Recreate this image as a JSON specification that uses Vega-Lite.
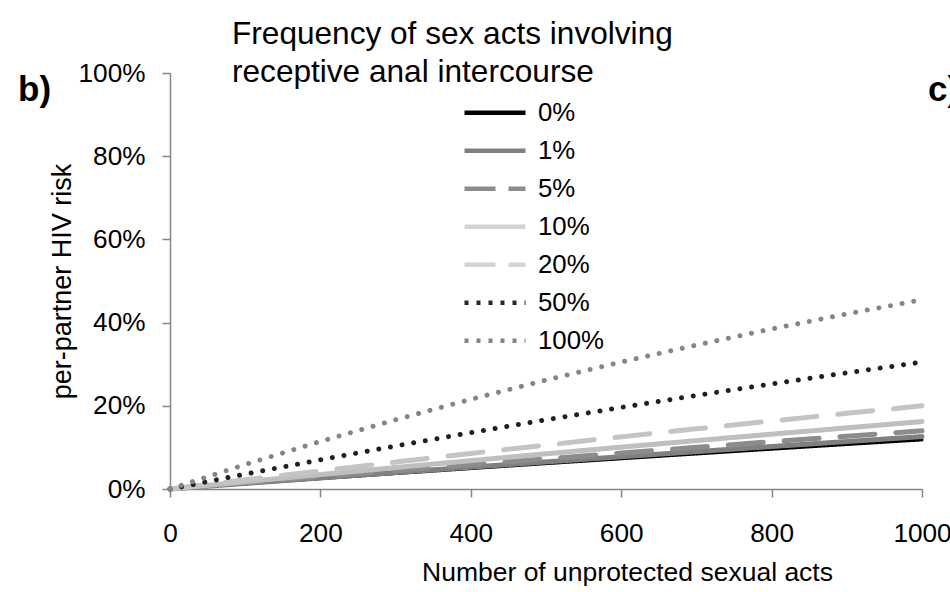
{
  "$schema": "https://vega.github.io/schema/vega-lite/v6.json",
  "width": 752,
  "height": 416,
  "autosize": {"type": "none"},
  "padding": {"left": 170, "top": 73, "right": 28, "bottom": 103},
  "background": "white",
  "config": {
    "view": {"stroke": null},
    "font": "Liberation Sans",
    "axis": {
      "domainColor": "#868686",
      "domainWidth": 1.5,
      "tickColor": "#868686",
      "tickWidth": 1.5,
      "tickSize": 8,
      "grid": false,
      "labelColor": "#000000",
      "labelFont": "Liberation Sans",
      "labelFontSize": 26.2,
      "titleColor": "#000000",
      "titleFont": "Liberation Sans",
      "titleFontWeight": "normal",
      "titleFontSize": 26.5
    }
  },
  "datasets": {
    "risk": [
      {"series": "0%", "acts": 0, "risk": 0},
      {"series": "0%", "acts": 100, "risk": 0.0125},
      {"series": "0%", "acts": 200, "risk": 0.0248},
      {"series": "0%", "acts": 300, "risk": 0.037},
      {"series": "0%", "acts": 400, "risk": 0.049},
      {"series": "0%", "acts": 500, "risk": 0.0609},
      {"series": "0%", "acts": 600, "risk": 0.0726},
      {"series": "0%", "acts": 700, "risk": 0.0842},
      {"series": "0%", "acts": 800, "risk": 0.0956},
      {"series": "0%", "acts": 900, "risk": 0.1069},
      {"series": "0%", "acts": 1000, "risk": 0.118},
      {"series": "1%", "acts": 0, "risk": 0},
      {"series": "1%", "acts": 100, "risk": 0.0134},
      {"series": "1%", "acts": 200, "risk": 0.0266},
      {"series": "1%", "acts": 300, "risk": 0.0396},
      {"series": "1%", "acts": 400, "risk": 0.0525},
      {"series": "1%", "acts": 500, "risk": 0.0651},
      {"series": "1%", "acts": 600, "risk": 0.0776},
      {"series": "1%", "acts": 700, "risk": 0.0899},
      {"series": "1%", "acts": 800, "risk": 0.1021},
      {"series": "1%", "acts": 900, "risk": 0.1141},
      {"series": "1%", "acts": 1000, "risk": 0.126},
      {"series": "5%", "acts": 0, "risk": 0},
      {"series": "5%", "acts": 100, "risk": 0.015},
      {"series": "5%", "acts": 200, "risk": 0.0297},
      {"series": "5%", "acts": 300, "risk": 0.0442},
      {"series": "5%", "acts": 400, "risk": 0.0585},
      {"series": "5%", "acts": 500, "risk": 0.0726},
      {"series": "5%", "acts": 600, "risk": 0.0865},
      {"series": "5%", "acts": 700, "risk": 0.1002},
      {"series": "5%", "acts": 800, "risk": 0.1136},
      {"series": "5%", "acts": 900, "risk": 0.1269},
      {"series": "5%", "acts": 1000, "risk": 0.14},
      {"series": "10%", "acts": 0, "risk": 0},
      {"series": "10%", "acts": 100, "risk": 0.0175},
      {"series": "10%", "acts": 200, "risk": 0.0347},
      {"series": "10%", "acts": 300, "risk": 0.0516},
      {"series": "10%", "acts": 400, "risk": 0.0682},
      {"series": "10%", "acts": 500, "risk": 0.0846},
      {"series": "10%", "acts": 600, "risk": 0.1006},
      {"series": "10%", "acts": 700, "risk": 0.1163},
      {"series": "10%", "acts": 800, "risk": 0.1318},
      {"series": "10%", "acts": 900, "risk": 0.147},
      {"series": "10%", "acts": 1000, "risk": 0.162},
      {"series": "20%", "acts": 0, "risk": 0},
      {"series": "20%", "acts": 100, "risk": 0.0221},
      {"series": "20%", "acts": 200, "risk": 0.0436},
      {"series": "20%", "acts": 300, "risk": 0.0647},
      {"series": "20%", "acts": 400, "risk": 0.0854},
      {"series": "20%", "acts": 500, "risk": 0.1056},
      {"series": "20%", "acts": 600, "risk": 0.1253},
      {"series": "20%", "acts": 700, "risk": 0.1446},
      {"series": "20%", "acts": 800, "risk": 0.1635},
      {"series": "20%", "acts": 900, "risk": 0.1819},
      {"series": "20%", "acts": 1000, "risk": 0.2},
      {"series": "50%", "acts": 0, "risk": 0},
      {"series": "50%", "acts": 100, "risk": 0.0357},
      {"series": "50%", "acts": 200, "risk": 0.0702},
      {"series": "50%", "acts": 300, "risk": 0.1034},
      {"series": "50%", "acts": 400, "risk": 0.1354},
      {"series": "50%", "acts": 500, "risk": 0.1663},
      {"series": "50%", "acts": 600, "risk": 0.1961},
      {"series": "50%", "acts": 700, "risk": 0.2249},
      {"series": "50%", "acts": 800, "risk": 0.2525},
      {"series": "50%", "acts": 900, "risk": 0.2792},
      {"series": "50%", "acts": 1000, "risk": 0.305},
      {"series": "100%", "acts": 0, "risk": 0},
      {"series": "100%", "acts": 100, "risk": 0.0589},
      {"series": "100%", "acts": 200, "risk": 0.1143},
      {"series": "100%", "acts": 300, "risk": 0.1665},
      {"series": "100%", "acts": 400, "risk": 0.2156},
      {"series": "100%", "acts": 500, "risk": 0.2618},
      {"series": "100%", "acts": 600, "risk": 0.3053},
      {"series": "100%", "acts": 700, "risk": 0.3461},
      {"series": "100%", "acts": 800, "risk": 0.3847},
      {"series": "100%", "acts": 900, "risk": 0.4209},
      {"series": "100%", "acts": 1000, "risk": 0.455}
    ]
  },
  "resolve": {"scale": {"color": "independent", "strokeDash": "independent"}, "legend": {"color": "independent", "strokeDash": "independent"}},
  "layer": [
    {
      "data": {"name": "risk"},
      "mark": {"type": "line", "strokeCap": "round", "strokeJoin": "round"},
      "encoding": {
        "x": {
          "field": "acts",
          "type": "quantitative",
          "scale": {"domain": [0, 1000], "nice": false},
          "axis": {
            "values": [0, 200, 400, 600, 800, 1000],
            "format": "d",
            "title": "Number of unprotected sexual acts",
            "labelPadding": 23,
            "labelFlush": false,
            "labelOverlap": false,
            "titleX": 457,
            "titleY": 91,
            "titleAlign": "center",
            "titleBaseline": "alphabetic"
          }
        },
        "y": {
          "field": "risk",
          "type": "quantitative",
          "scale": {"domain": [0, 1], "nice": false},
          "axis": {
            "values": [0, 0.2, 0.4, 0.6, 0.8, 1],
            "format": ".0%",
            "title": "per-partner HIV risk",
            "labelPadding": 17,
            "labelFlush": false,
            "labelOverlap": false,
            "titleX": -100,
            "titleY": 208,
            "titleAngle": 270,
            "titleAlign": "center",
            "titleBaseline": "alphabetic",
            "titleFontSize": 27
          }
        },
        "color": {
          "field": "series",
          "type": "nominal",
          "scale": {
            "domain": ["0%", "1%", "5%", "10%", "20%", "50%", "100%"],
            "range": ["#000000", "#808080", "#8c8c8c", "#bfbfbf", "#c4c4c4", "#1f1f1f", "#858585"]
          },
          "legend": null
        },
        "strokeDash": {
          "field": "series",
          "type": "nominal",
          "scale": {
            "domain": ["0%", "1%", "5%", "10%", "20%", "50%", "100%"],
            "range": [[1, 0], [1, 0], [35, 21], [1, 0], [35, 21], [0.01, 11.8], [0.01, 11.8]]
          },
          "legend": null
        },
        "strokeWidth": {
          "condition": {"test": "datum.series === '0%'", "value": 3},
          "value": 5
        },
        "order": {"field": "acts", "type": "quantitative"}
      }
    },
    {
      "data": {"name": "risk"},
      "transform": [{"filter": "datum.acts < 0"}],
      "mark": {"type": "line", "strokeCap": "butt", "strokeWidth": 4.5},
      "encoding": {
        "x": {"field": "acts", "type": "quantitative"},
        "y": {"field": "risk", "type": "quantitative"},
        "color": {
          "field": "series",
          "type": "nominal",
          "scale": {
            "domain": ["0%", "1%", "5%", "10%", "20%", "50%", "100%"],
            "range": ["#000000", "#808080", "#8c8c8c", "#d4d4d4", "#d4d4d4", "#262626", "#858585"]
          },
          "legend": {
            "orient": "none",
            "legendX": 62,
            "legendY": -54.5,
            "padding": 0,
            "title": ["Frequency of sex acts involving", "receptive anal intercourse"],
            "titleFont": "Liberation Sans",
            "titleFontSize": 31.6,
            "titleFontWeight": "normal",
            "titleColor": "#000000",
            "titleLineHeight": 38,
            "titleAnchor": "start",
            "titleLimit": 700,
            "titlePadding": 5.8,
            "symbolType": "stroke",
            "symbolSize": 3721,
            "symbolOffset": 230,
            "symbolStrokeWidth": 4.5,
            "labelOffset": 10,
            "labelFont": "Liberation Sans",
            "labelFontSize": 25.8,
            "labelColor": "#000000",
            "labelLimit": 300,
            "clipHeight": 37.6,
            "rowPadding": 0
          }
        },
        "strokeDash": {
          "field": "series",
          "type": "nominal",
          "scale": {
            "domain": ["0%", "1%", "5%", "10%", "20%", "50%", "100%"],
            "range": [[1, 0], [1, 0], [31, 13], [1, 0], [31, 13], [4, 8], [4, 8]]
          },
          "legend": {
            "orient": "none",
            "legendX": 62,
            "legendY": -54.5,
            "padding": 0,
            "title": ["Frequency of sex acts involving", "receptive anal intercourse"],
            "titleFont": "Liberation Sans",
            "titleFontSize": 31.6,
            "titleFontWeight": "normal",
            "titleColor": "#000000",
            "titleLineHeight": 38,
            "titleAnchor": "start",
            "titleLimit": 700,
            "titlePadding": 5.8,
            "symbolType": "stroke",
            "symbolSize": 3721,
            "symbolOffset": 230,
            "symbolStrokeWidth": 4.5,
            "labelOffset": 10,
            "labelFont": "Liberation Sans",
            "labelFontSize": 25.8,
            "labelColor": "#000000",
            "labelLimit": 300,
            "clipHeight": 37.6,
            "rowPadding": 0
          }
        }
      }
    },
    {
      "data": {"values": [{"label": "b)"}]},
      "mark": {"type": "text", "text": "b)", "font": "Liberation Sans", "fontSize": 35, "fontWeight": "bold", "align": "left", "baseline": "alphabetic", "color": "#000000"},
      "encoding": {
        "x": {"datum": -202, "type": "quantitative"},
        "y": {"datum": 0.9315, "type": "quantitative"}
      }
    },
    {
      "data": {"values": [{"label": "c)"}]},
      "mark": {"type": "text", "text": "c)", "font": "Liberation Sans", "fontSize": 35, "fontWeight": "bold", "align": "left", "baseline": "alphabetic", "color": "#000000"},
      "encoding": {
        "x": {"datum": 1008, "type": "quantitative"},
        "y": {"datum": 0.9315, "type": "quantitative"}
      }
    }
  ]
}
